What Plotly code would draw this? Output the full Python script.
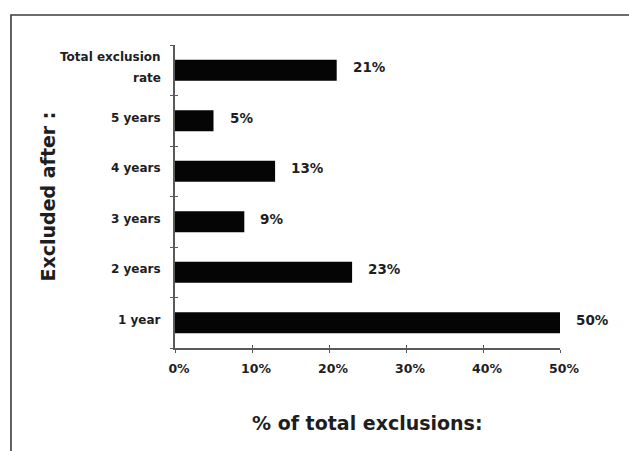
import plotly.graph_objects as go

# Exclusion shares by time after admission (bottom to top)
categories = ["1 year", "2 years", "3 years", "4 years", "5 years", "Total exclusion<br>rate"]
values = [50, 23, 9, 13, 5, 21]
x_ticks = [0, 10, 20, 30, 40, 50]
x_tick_labels = ["0%", "10%", "20%", "30%", "40%", "50%"]

FONT = "DejaVu Sans"
INK = "#1e1e1e"
AXIS = "#5a5a5a"

fig = go.Figure()

fig.add_trace(go.Bar(
    x=values,
    y=categories,
    orientation="h",
    marker=dict(color="#050505", line=dict(width=0)),
    hoverinfo="skip",
    showlegend=False,
))

# empty trace on the overlay axes, which carry the inward half of each tick
fig.add_trace(go.Scatter(x=[], y=[], xaxis="x2", yaxis="y2", showlegend=False))

annotations = []

# value labels to the right of each bar
for cat, v in zip(categories, values):
    annotations.append(dict(
        x=v, y=cat, xref="x", yref="y", text=f"{v}%",
        showarrow=False, xanchor="left", yanchor="middle",
        xshift=14, yshift=3,
        font=dict(family=FONT, size=13.5, color=INK, weight="bold"),
    ))

# category labels, centred line by line
for cat in categories:
    lines = cat.split("<br>")
    n = len(lines)
    for i, line in enumerate(lines):
        annotations.append(dict(
            x=0, y=cat, xref="paper", yref="y", text=line,
            showarrow=False, xanchor="right", yanchor="middle",
            xshift=-12, yshift=3 + ((n - 1) / 2 - i) * 21,
            font=dict(family=FONT, size=12, color=INK, weight="bold"),
        ))

# axis titles
annotations.append(dict(
    x=0.5, y=-0.2475, xref="paper", yref="paper",
    text="% of total exclusions:", showarrow=False,
    xanchor="center", yanchor="middle",
    font=dict(family=FONT, size=19, color=INK, weight="bold"),
))
annotations.append(dict(
    x=-0.33, y=0.5, xref="paper", yref="paper",
    text="Excluded after :", showarrow=False, textangle=-90,
    xanchor="center", yanchor="middle",
    font=dict(family=FONT, size=19, color=INK, weight="bold"),
))

fig.update_layout(
    width=629,
    height=451,
    margin=dict(l=175, r=69, t=45, b=103),
    paper_bgcolor="white",
    plot_bgcolor="white",
    bargap=0.58,
    annotations=annotations,
    xaxis=dict(
        range=[0, 50],
        tickvals=x_ticks,
        ticktext=x_tick_labels,
        showgrid=False,
        zeroline=False,
        showline=True,
        linecolor=AXIS,
        linewidth=1.5,
        ticks="outside",
        ticklen=3,
        tickwidth=1.2,
        tickcolor=AXIS,
        ticklabelstandoff=5,
        ticklabelshift=4,
        tickfont=dict(family=FONT, size=12.5, color=INK, weight="bold"),
        fixedrange=True,
    ),
    yaxis=dict(
        type="category",
        categoryorder="array",
        categoryarray=categories,
        range=[-0.5, len(categories) - 0.5],
        showgrid=False,
        zeroline=False,
        showline=True,
        linecolor=AXIS,
        linewidth=1.5,
        ticks="outside",
        tickson="boundaries",
        ticklen=3,
        tickwidth=1.2,
        tickcolor=AXIS,
        showticklabels=False,
        fixedrange=True,
    ),
    xaxis2=dict(
        overlaying="x",
        anchor="y2",
        range=[0, 50],
        tickvals=x_ticks,
        showgrid=False,
        zeroline=False,
        showline=False,
        ticks="inside",
        ticklen=3,
        tickwidth=1.2,
        tickcolor=AXIS,
        showticklabels=False,
        fixedrange=True,
    ),
    yaxis2=dict(
        overlaying="y",
        anchor="x2",
        type="category",
        categoryorder="array",
        categoryarray=categories,
        range=[-0.5, len(categories) - 0.5],
        showgrid=False,
        zeroline=False,
        showline=False,
        ticks="inside",
        tickson="boundaries",
        ticklen=3,
        tickwidth=1.2,
        tickcolor=AXIS,
        showticklabels=False,
        fixedrange=True,
    ),
    shapes=[
        # outer frame (top and left edges; the rest runs off the page)
        dict(type="rect", xref="paper", yref="paper",
             x0=-0.426, x1=1.3, y0=-0.5, y1=1.099,
             line=dict(color="#3c3c3c", width=1.6), fillcolor="rgba(0,0,0,0)",
             layer="below"),
    ],
)

fig.write_html("out.html", config=dict(displayModeBar=False))
